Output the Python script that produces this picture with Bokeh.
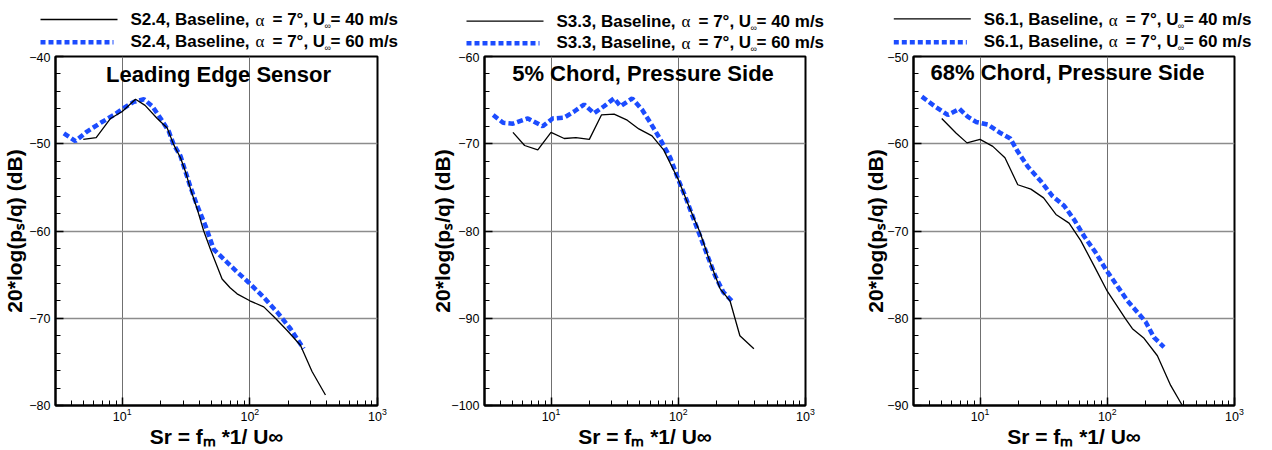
from bokeh.plotting import figure
from bokeh.models import Label, Arrow, FixedTicker, LogTickFormatter
from bokeh.layouts import row, column
from bokeh.embed import file_html
from bokeh.resources import INLINE

# ---------------- data ----------------
x_major = [10, 100, 1000]
x_minor = [3, 4, 5, 6, 7, 8, 9, 20, 30, 40, 50, 60, 70, 80, 90,
           200, 300, 400, 500, 600, 700, 800, 900]

titles = ["Leading Edge Sensor", "5% Chord, Pressure Side", "68% Chord, Pressure Side"]
sensors = ["S2.4", "S3.3", "S6.1"]
speeds = ["40", "60"]
y_ranges = [(-80, -40), (-100, -60), (-90, -50)]
x_label = "Sr = f\u2098 *1/ U\u221e"
y_label = "20*log(p\u209b/q) (dB)"

le_sr_40 = [4.95, 6.25, 8.1, 10, 12.7, 15.1, 18.8, 22.5, 25.3, 28.6, 31.3, 34.3, 38.7,
            43.5, 49.1, 60.6, 70, 79.4, 100, 128.5, 158.5, 196, 249, 307, 391]
le_db_40 = [-49.5, -49.3, -47.1, -46.3, -44.9, -45.6, -47.1, -48.2, -50.1, -51.6, -53.2,
            -55.2, -57.5, -60.0, -62.1, -65.5, -66.5, -67.2, -68.0, -68.7, -70.0, -71.4,
            -73.1, -76.1, -78.8]
le_sr_60 = [3.49, 4.3, 5.3, 6.77, 8.6, 10.3, 12.3, 14.8, 17.2, 20, 23.2, 25.3, 28.6, 31.3,
            34.3, 38.7, 44.9, 52.1, 66.4, 79.4, 97.8, 128.5, 163.7, 208, 264]
le_db_60 = [-48.8, -49.7, -48.6, -47.6, -46.7, -45.9, -45.2, -44.9, -45.7, -47.1, -48.6,
            -50.1, -51.4, -53.2, -55.0, -57.1, -59.4, -62.1, -63.6, -64.7, -65.9, -67.6,
            -69.3, -71.2, -73.5]

c5_sr_40 = [5.02, 6.2, 7.87, 10, 12.7, 15.7, 20, 24.9, 31.3, 39.7, 49, 62.2, 76.7, 100,
            124, 148.6, 178, 213, 255, 305, 393]
c5_db_40 = [-68.7, -70.2, -70.7, -68.7, -69.4, -69.3, -69.5, -66.7, -66.6, -67.3, -68.3,
            -69.1, -70.7, -74.1, -77.5, -80.2, -83.6, -86.6, -88.0, -92.0, -93.5]
c5_sr_60 = [3.51, 4.2, 5.02, 6.58, 8.6, 10.3, 12.7, 15.2, 18.2, 21.8, 26.1, 31.3, 35.2,
            43.5, 52, 60.4, 72.3, 86.6, 100, 116, 135, 162.5, 194.5, 226, 271]
c5_db_60 = [-66.7, -67.6, -67.7, -67.1, -68.0, -67.1, -67.0, -66.3, -65.5, -66.5, -65.7,
            -64.8, -65.7, -64.8, -66.1, -67.6, -69.5, -71.6, -74.1, -76.4, -79.0, -82.1,
            -85.1, -87.0, -88.2]

c68_sr_40 = [5.0, 6.5, 7.9, 10, 12.6, 15.7, 19.8, 25.1, 31.6, 39.5, 50.1, 61.9, 78.8, 100,
             139.6, 157.6, 194.5, 247.7, 315, 389]
c68_db_40 = [-57.1, -58.8, -59.9, -59.5, -60.3, -61.6, -64.7, -65.2, -66.2, -68.1, -69.1,
             -71.1, -74.0, -76.9, -80.1, -81.2, -82.3, -84.3, -87.7, -90.0]
c68_sr_60 = [3.49, 4.4, 5.58, 6.9, 8.0, 9.3, 11.5, 14.6, 17.3, 19.8, 23.7, 30.1, 37.1,
             45.8, 54.9, 65.8, 81.3, 97.3, 120, 144, 172.5, 200, 233, 279]
c68_db_60 = [-54.6, -55.7, -56.7, -56.0, -56.9, -57.5, -57.8, -58.8, -59.4, -60.9, -62.6,
             -64.3, -66.0, -67.1, -68.7, -70.6, -72.5, -74.4, -76.3, -78.0, -79.3, -80.4,
             -82.2, -83.3]

series = [
    (le_sr_40, le_db_40, le_sr_60, le_db_60),
    (c5_sr_40, c5_db_40, c5_sr_60, c5_db_60),
    (c68_sr_40, c68_db_40, c68_sr_60, c68_db_60),
]

# ---------------- layout (pixel geometry) ----------------
FONT = "Liberation Sans"
BLUE = "#1c4cff"
PANEL_W = 424
LEG_H = 52                      # strip above each plot that holds the legend
MAIN_H = 450 - LEG_H
frame_left = [55, 60, 65]
frame_right = [47, 43, 38]
ylab_standoff = [0, -6, -3]
TOP, BOTTOM = 56 - LEG_H, 43
legend_T = [130, 556 - 424, 983.3 - 848]            # legend text start (local px)
legend_mid = [(19.2, 40.9), (20.9, 42.3), (19.2, 40.9)]   # text centre lines
legend_line = [(19, 41.7), (20.7, 42.7), (18.3, 41.7)]
title_pos = [(218, 74.2 - LEG_H), (642.5 - 424, 72.5 - LEG_H), (1067 - 848, 72 - LEG_H)]


def lab(p, x, y, text, size, bold=True, font=FONT, align="left"):
    p.add_layout(Label(x=x, y=y, x_units="canvas", y_units="canvas", text=text,
                       text_font=font, text_font_size=f"{size}px",
                       text_font_style="bold" if bold else "normal",
                       text_color="black", text_align=align,
                       text_baseline="middle"))


columns = []
for i in range(3):
    y0, y1 = y_ranges[i]
    p = figure(width=PANEL_W, height=MAIN_H, x_axis_type="log",
               x_range=(3, 1000), y_range=(y0, y1),
               output_backend="svg", toolbar_location=None,
               min_border_left=frame_left[i], min_border_right=frame_right[i],
               min_border_top=TOP, min_border_bottom=BOTTOM)
    p.frame_align = False
    p.background_fill_color = "white"
    p.border_fill_color = "white"
    p.outline_line_color = "black"
    p.outline_line_width = 2

    xt = FixedTicker(ticks=x_major, minor_ticks=x_minor)
    yt = FixedTicker(ticks=list(range(y0, y1 + 1, 10)),
                     minor_ticks=list(range(y0, y1 + 1, 2)))
    p.xaxis.ticker = xt
    p.yaxis.ticker = yt
    p.xgrid.ticker = xt
    p.ygrid.ticker = yt
    p.xaxis.formatter = LogTickFormatter()
    for ax in (p.xaxis, p.yaxis):
        ax.axis_line_color = "black"
        ax.axis_line_width = 2
        ax.major_tick_in = 8
        ax.major_tick_out = 0
        ax.minor_tick_in = 5
        ax.minor_tick_out = 0
        ax.major_tick_line_color = "black"
        ax.minor_tick_line_color = "black"
        ax.major_tick_line_width = 1.5
        ax.major_label_text_font = FONT
        ax.major_label_text_font_size = "12.5px"
        ax.major_label_text_color = "black"
        ax.axis_label_text_font = FONT
        ax.axis_label_text_font_size = "21px"
        ax.axis_label_text_font_style = "bold"
        ax.axis_label_text_color = "black"
    p.xaxis.axis_label_standoff = 1
    p.yaxis.axis_label_standoff = ylab_standoff[i]
    p.xaxis.major_label_standoff = 2
    p.yaxis.major_label_standoff = 5
    p.xaxis.axis_label = x_label
    p.yaxis.axis_label = y_label
    p.xgrid.grid_line_color = "#707070"
    p.ygrid.grid_line_color = "#8c8c8c"
    p.xgrid.grid_line_width = 1
    p.ygrid.grid_line_width = 1.5

    sx40, db40, sx60, db60 = series[i]
    p.line(sx60, db60, line_color=BLUE, line_width=4.5, line_dash="6 3")
    p.line(sx40, db40, line_color="black", line_width=1.3)

    # in-plot title
    tx, ty = title_pos[i]
    lab(p, tx, ty, titles[i], 22, align="center")

    # legend strip above the plot
    lg = figure(width=PANEL_W, height=LEG_H, x_range=(0, 1), y_range=(0, 1),
                x_axis_type=None, y_axis_type=None,
                output_backend="svg", toolbar_location=None,
                min_border_left=0, min_border_right=0,
                min_border_top=0, min_border_bottom=0)
    lg.frame_align = False
    lg.outline_line_color = None
    lg.background_fill_color = "white"
    lg.border_fill_color = "white"
    lg.xgrid.visible = False
    lg.ygrid.visible = False
    T = legend_T[i]
    styles = [("black", "solid", 1.3, 0), (BLUE, "5 3", 4.5, 4)]
    for k, (col, dash, lw, shorten) in enumerate(styles):
        ly = legend_line[i][k]
        lg.add_layout(Arrow(end=None, x_start=T - 90, y_start=ly,
                            x_end=T - 13 - shorten, y_end=ly,
                            start_units="canvas", end_units="canvas",
                            line_color=col, line_width=lw, line_dash=dash))
        m = legend_mid[i][k]
        lab(lg, T, m, f"{sensors[i]}, Baseline, ", 17)
        lab(lg, T + 125, m + 0.5, "\u03b1", 17, bold=False, font="Liberation Serif")
        lab(lg, T + 142, m, "= 7\u00b0, U", 17)
        lab(lg, T + 194, m + 6.5, "\u221e", 9, bold=False)
        lab(lg, T + 200, m, f"= {speeds[k]} m/s", 17)

    columns.append(column(lg, p, spacing=0))

layout = row(*columns, spacing=0)
open("out.html", "w").write(file_html(layout, INLINE))
